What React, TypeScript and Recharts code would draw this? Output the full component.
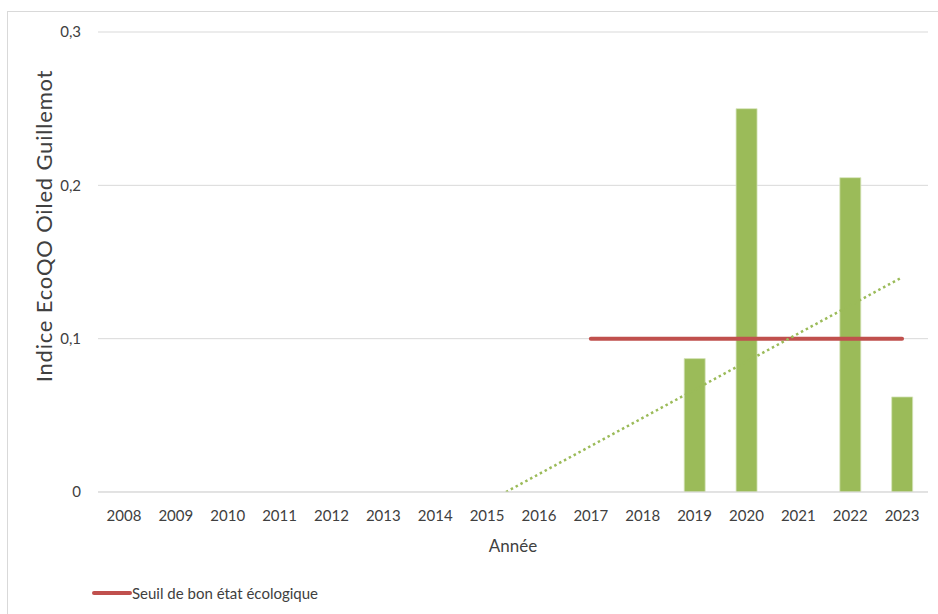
import { ComposedChart, Bar, Line, XAxis, YAxis, CartesianGrid } from 'recharts';

const years = ['2008', '2009', '2010', '2011', '2012', '2013', '2014', '2015', '2016', '2017', '2018', '2019', '2020', '2021', '2022', '2023'];
const ecoqo = [0, 0, 0, 0, 0, 0, 0, 0, 0, 0, 0, 0.087, 0.25, 0, 0.205, 0.062];
// seuil only drawn from 2017 onwards
const seuil = [null, null, null, null, null, null, null, null, null, 0.1, 0.1, 0.1, 0.1, 0.1, 0.1, 0.1];
// linear trend, read at both ends (clipped below 0 like Excel)
const trend = [-0.135, null, null, null, null, null, null, null, null, null, null, null, null, null, null, 0.14];
const yTicks = [0, 0.1, 0.2, 0.3];

const data = years.map((year, i) => ({
  year,
  ecoqo: ecoqo[i],
  seuil: seuil[i],
  trend: trend[i],
}));

const FONT = 'Lato, "Open Sans", sans-serif';

export default function App() {
  return (
    <div style={{ position: 'absolute', left: 0, top: 0, width: 938, height: 614, background: '#fff', fontFamily: FONT, overflow: 'hidden' }}>
      <div style={{ position: 'absolute', left: 7, top: 11, width: 960, height: 640, border: '1px solid #d9d9d9' }} />
      <ComposedChart
        width={938}
        height={614}
        data={data}
        margin={{ top: 32, right: 10, bottom: 60, left: 0 }}
        barCategoryGap="30%"
        style={{ position: 'absolute', left: 0, top: 0 }}
      >
        <CartesianGrid vertical={false} stroke="#d9d9d9" strokeWidth={1} />
        <XAxis
          dataKey="year"
          height={62}
          axisLine={{ stroke: '#d9d9d9' }}
          tickLine={false}
          tickSize={0}
          tickMargin={18}
          tick={{ fill: '#404040', fontSize: 15, fontFamily: FONT }}
          interval={0}
          label={{ value: 'Année', position: 'insideBottom', offset: 2, fill: '#404040', fontSize: 17, fontFamily: FONT }}
        />
        <YAxis
          width={98}
          domain={[0, 0.3]}
          ticks={yTicks}
          allowDataOverflow
          axisLine={false}
          tickLine={false}
          tickSize={0}
          tickMargin={17}
          tickFormatter={(v: number) => String(v).replace('.', ',')}
          tick={{ fill: '#404040', fontSize: 15, fontFamily: FONT }}
          label={{ value: 'Indice EcoQO Oiled Guillemot', angle: -90, position: 'insideLeft', offset: 44, dy: -36, fill: '#404040', fontSize: 22, fontFamily: FONT, style: { textAnchor: 'middle', letterSpacing: '0.8px' } }}
        />
        <Bar dataKey="ecoqo" fill="#9bbb59" stroke="#d7e4bd" strokeWidth={0.8} isAnimationActive={false} />
        <Line
          dataKey="seuil"
          stroke="#c0504d"
          strokeWidth={4}
          strokeLinecap="round"
          dot={false}
          activeDot={false}
          isAnimationActive={false}
        />
        <Line
          dataKey="trend"
          connectNulls
          stroke="#9bbb59"
          strokeWidth={2.5}
          strokeDasharray="2.5 3"
          dot={false}
          activeDot={false}
          isAnimationActive={false}
        />
      </ComposedChart>
      <div style={{ position: 'absolute', left: 92, top: 583, display: 'flex', alignItems: 'center', fontSize: 15, lineHeight: '20px', color: '#404040' }}>
        <span style={{ display: 'inline-block', width: 40, height: 4, borderRadius: 2, background: '#c0504d' }} />
        <span>Seuil de bon état écologique</span>
      </div>
    </div>
  );
}
